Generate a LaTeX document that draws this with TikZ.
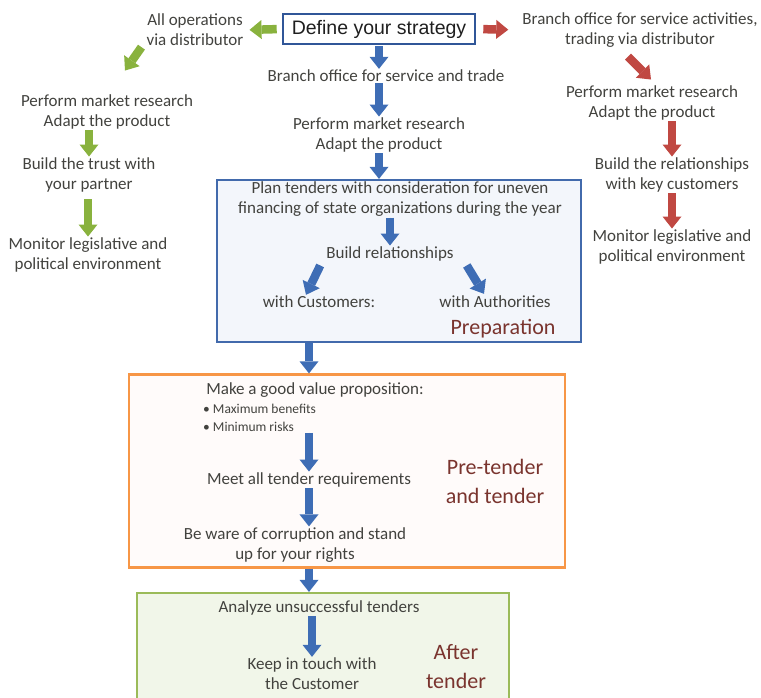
\documentclass[tikz,border=0pt]{standalone}
\usepackage{fontspec}
\setmainfont{Carlito}
\newfontfamily\headfont{Liberation Sans}
\usepackage{tikz}
\usetikzlibrary{arrows.meta, positioning, calc}
\definecolor{txtgray}{RGB}{66,66,62}
\definecolor{stagered}{RGB}{122,52,46}
\definecolor{arrblue}{RGB}{62,109,181}
\definecolor{arrgreen}{RGB}{137,178,62}
\definecolor{arrred}{RGB}{192,72,66}
\definecolor{frameblue}{RGB}{66,106,172}
\definecolor{darkblue}{RGB}{48,86,152}
\definecolor{lightprep}{RGB}{243,246,251}
\definecolor{frameorange}{RGB}{247,150,70}
\definecolor{lightpre}{RGB}{255,251,250}
\definecolor{framegreen}{RGB}{155,187,89}
\definecolor{lightafter}{RGB}{241,246,233}
\tikzset{
  txt/.style={align=center, text=txtgray, inner sep=1pt, font=\fontsize{17}{20}\selectfont},
  smalltxt/.style={align=left, text=txtgray, inner sep=1pt, font=\fontsize{13.5}{18}\selectfont},
  stagelabel/.style={align=center, text=stagered, inner sep=1pt, font=\fontsize{22}{29}\selectfont},
  headbox/.style={rectangle, draw=darkblue, line width=2.6pt, fill=white, text=black!88,
    font=\headfont\fontsize{19.5}{22}\selectfont, minimum width=192pt, minimum height=30pt, inner sep=1pt},
  stageframe/.style={rectangle, line width=2.2pt, inner sep=0pt},
  blockarrow/.style={line width=8.5pt, -{Triangle[width=19pt,length=12pt,line width=0pt]}},
  bluearrow/.style={blockarrow, draw=arrblue, fill=arrblue},
  greenarrow/.style={blockarrow, draw=arrgreen, fill=arrgreen},
  redarrow/.style={blockarrow, draw=arrred, fill=arrred}
}
\begin{document}
\begin{tikzpicture}[x=1pt, y=-1pt]
  \useasboundingbox (0,0) rectangle (761,698);
  \clip (0,0) rectangle (761,698);

  % stage frames
  \node[stageframe, draw=frameblue, fill=lightprep, minimum width=364pt, minimum height=162pt] (prep) at (399,261) {};
  \node[stageframe, draw=frameorange, fill=lightpre, minimum width=436pt, minimum height=193pt] (pre) at (347,471) {};
  \node[stageframe, draw=framegreen, fill=lightafter, minimum width=372pt, minimum height=126pt] (after) at (323,656) {};

  \node[headbox] (strategy) at (379,29) {Define your strategy};

  % left branch
  \node[txt] (alldist) at (195,30) {All operations\\via distributor};
  \node[txt] (leftres) at (107,112) {Perform market research\\Adapt the product};
  \node[txt] (lefttrust) at (89,175) {Build the trust with\\your partner};
  \node[txt] (leftmon) at (88,255) {Monitor legislative and\\political environment};

  % right branch
  \node[txt] (rightbranch) at (640,30) {Branch office for service activities,\\trading via distributor};
  \node[txt] (rightres) at (652,103) {Perform market research\\Adapt the product};
  \node[txt] (righttrust) at (672,175) {Build the relationships\\with key customers};
  \node[txt] (rightmon) at (672,247) {Monitor legislative and\\political environment};

  % centre
  \node[txt] (branch) at (386,76) {Branch office for service and trade};
  \node[txt] (research) at (379,135) {Perform market research\\Adapt the product};
  \node[txt] (plan) at (400,199) {Plan tenders with consideration for uneven\\financing of state organizations during the year};
  \node[txt] (build) at (390,254) {Build relationships};
  \node[txt] (custom) at (319,302) {with Customers:};
  \node[txt] (auth) at (495,302) {with Authorities};
  \node[stagelabel] (preplabel) at (503,329) {Preparation};

  \node[txt] (value) at (315,390) {Make a good value proposition:};
  \node[smalltxt, anchor=west] (bullets) at (202,418) {\textbullet\ Maximum benefits\\\textbullet\ Minimum risks};
  \node[txt] (meet) at (309,480) {Meet all tender requirements};
  \node[txt] (corrupt) at (295,545) {Be ware of corruption and stand\\up for your rights};
  \node[stagelabel] (prelabel) at (495,481) {Pre-tender\\and tender};

  \node[txt] (analyze) at (319,608) {Analyze unsuccessful tenders};
  \node[txt] (keep) at (312,674) {Keep in touch with\\the Customer};
  \node[stagelabel] (afterlabel) at (456,667) {After\\tender};

  % arrows
  \draw[greenarrow, shorten <=5pt, shorten >=5pt] (strategy.west) -- (alldist.east);
  \draw[greenarrow] ([xshift=-4pt]alldist.south west) -- ([xshift=18pt,yshift=23pt]leftres.north);
  \draw[greenarrow] (lefttrust.north |- leftres.south) -- (lefttrust.north);
  \draw[greenarrow, shorten <=6pt] (leftmon.north |- lefttrust.south) -- (leftmon.north);

  \draw[redarrow, shorten <=7pt, shorten >=13pt] (strategy.east) -- (rightbranch.west);
  \draw[redarrow] ([xshift=-12pt,yshift=-8pt]rightbranch.south) -- ([xshift=-1pt,yshift=5pt]rightres.north);
  \draw[redarrow] (righttrust.north |- rightres.south) -- (righttrust.north);
  \draw[redarrow] (rightmon.north |- righttrust.south) -- (rightmon.north);

  \draw[bluearrow, shorten <=1pt] (strategy.south) -- (strategy.south |- branch.north);
  \draw[bluearrow] (research.north |- branch.south) -- (research.north);
  \draw[bluearrow] (research.south) -- (research.south |- prep.north);
  \draw[bluearrow] (build.north |- plan.south) -- (build.north);
  \draw[bluearrow] ([xshift=-5pt,yshift=-3pt]build.south west) -- ([xshift=-13pt]custom.north);
  \draw[bluearrow] ([xshift=12pt,yshift=-3pt]build.south east) -- ([xshift=-11pt,yshift=1pt]auth.north);
  \draw[bluearrow] (meet.north |- prep.south) -- (meet.north |- pre.north);
  \draw[bluearrow] (meet.north |- bullets.south) -- (meet.north);
  \draw[bluearrow] (meet.south) -- (meet.south |- corrupt.north);
  \draw[bluearrow] (meet.north |- pre.south) -- (meet.north |- after.north);
  \draw[bluearrow] (keep.north |- analyze.south) -- (keep.north);
\end{tikzpicture}
\end{document}
